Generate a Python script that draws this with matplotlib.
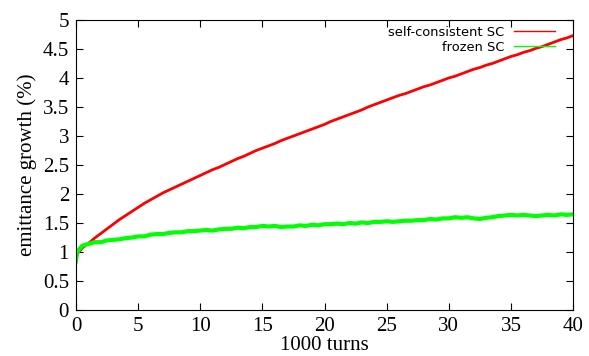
import matplotlib
matplotlib.use("Agg")
import matplotlib.pyplot as plt
import numpy as np

# emittance growth (%) versus 1000 turns, sampled every 0.5 (after a short start-up)
turns_start = [0.0, 0.05, 0.1, 0.2, 0.3, 0.4]
turns_main = [0.5 * i for i in range(1, 81)]

sc_start = [0.84, 0.92, 0.97, 1.00, 1.02, 1.04]
sc_main = [
    1.07, 1.15, 1.24, 1.32, 1.40, 1.48, 1.56, 1.63, 1.70, 1.77,
    1.84, 1.90, 1.96, 2.02, 2.07, 2.12, 2.17, 2.22, 2.27, 2.32,
    2.37, 2.42, 2.46, 2.51, 2.56, 2.61, 2.65, 2.70, 2.75, 2.79,
    2.83, 2.87, 2.92, 2.96, 3.00, 3.04, 3.08, 3.12, 3.16, 3.20,
    3.25, 3.29, 3.33, 3.37, 3.41, 3.45, 3.50, 3.54, 3.58, 3.62,
    3.66, 3.70, 3.73, 3.77, 3.81, 3.85, 3.88, 3.92, 3.96, 4.00,
    4.03, 4.07, 4.11, 4.15, 4.18, 4.22, 4.25, 4.29, 4.33, 4.37,
    4.40, 4.44, 4.47, 4.51, 4.54, 4.58, 4.62, 4.66, 4.69, 4.73,
]

frozen_start = [0.84, 0.93, 0.99, 1.03, 1.06, 1.08]
frozen_main = [
    1.11, 1.14, 1.17, 1.17, 1.20, 1.21, 1.22, 1.24, 1.25, 1.27,
    1.27, 1.30, 1.31, 1.31, 1.33, 1.34, 1.34, 1.36, 1.36, 1.37,
    1.38, 1.37, 1.39, 1.40, 1.40, 1.42, 1.41, 1.43, 1.43, 1.45,
    1.44, 1.45, 1.43, 1.44, 1.44, 1.46, 1.45, 1.47, 1.46, 1.48,
    1.48, 1.49, 1.48, 1.50, 1.49, 1.51, 1.50, 1.52, 1.52, 1.53,
    1.52, 1.53, 1.54, 1.54, 1.55, 1.55, 1.57, 1.56, 1.58, 1.58,
    1.60, 1.59, 1.60, 1.58, 1.57, 1.59, 1.60, 1.62, 1.63, 1.64,
    1.63, 1.64, 1.63, 1.62, 1.63, 1.64, 1.63, 1.65, 1.64, 1.65,
]

turns = np.array(turns_start + turns_main)
self_consistent = np.array(sc_start + sc_main)
frozen = np.array(frozen_start + frozen_main)

x_ticks = list(range(0, 41, 5))
y_ticks = [0, 0.5, 1, 1.5, 2, 2.5, 3, 3.5, 4, 4.5, 5]
y_ticklabels = ["0", "0.5", "1", "1.5", "2", "2.5", "3", "3.5", "4", "4.5", "5"]

serif = "Liberation Serif"

fig = plt.figure(figsize=(5.89, 3.56), dpi=100)
ax = fig.add_axes([0.129, 0.129, 0.844, 0.815])

ax.plot(turns, self_consistent, color="#ff0000", linewidth=2.0, label="self-consistent SC")
ax.plot(turns, frozen, color="#00ff00", linewidth=3.0, label="frozen SC")

ax.set_xlim(0, 40)
ax.set_ylim(0, 5)
ax.set_xticks(x_ticks)
ax.set_yticks(y_ticks)
ax.set_yticklabels(y_ticklabels)
ax.tick_params(direction="in", length=5, width=0.8, top=True, right=True)
ax.tick_params(axis="x", pad=5)
ax.tick_params(axis="y", pad=5)
for lab in ax.get_xticklabels() + ax.get_yticklabels():
    lab.set_fontfamily(serif)
    lab.set_fontsize(15)

ax.set_xlabel("1000 turns", fontfamily=serif, fontsize=15, labelpad=0)
ax.set_ylabel("emittance growth (%)", fontfamily=serif, fontsize=15, labelpad=4)

leg = ax.legend(loc="upper right", frameon=False, markerfirst=False,
                prop={"family": "DejaVu Sans", "size": 9.4},
                handlelength=3.1, handletextpad=0.8, labelspacing=0.15,
                borderpad=0.4, borderaxespad=0.0, bbox_to_anchor=(0.974, 0.997))
for line in leg.get_lines():
    line.set_linewidth(1.0)

fig.savefig("out.png", dpi=100)
